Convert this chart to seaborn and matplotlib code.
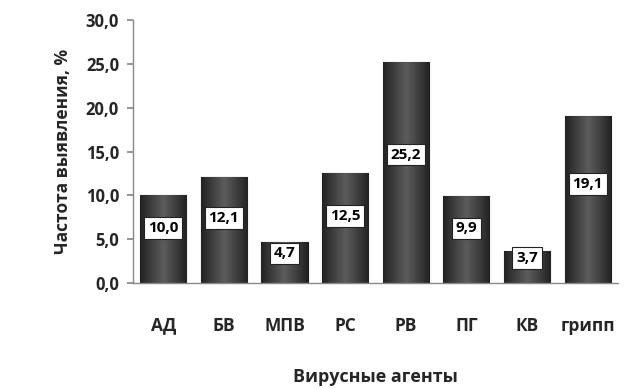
import numpy as np
import pandas as pd
import matplotlib
matplotlib.use('Agg')
import matplotlib.pyplot as plt
from matplotlib.colors import LinearSegmentedColormap
import seaborn as sns

# Data
agents = ['АД', 'БВ', 'МПВ', 'РС', 'РВ', 'ПГ', 'КВ', 'грипп']
freq = [10.0, 12.1, 4.7, 12.5, 25.2, 9.9, 3.7, 19.1]
value_labels = ['10,0', '12,1', '4,7', '12,5', '25,2', '9,9', '3,7', '19,1']
y_ticks = [0, 5, 10, 15, 20, 25, 30]
y_tick_labels = ['0,0', '5,0', '10,0', '15,0', '20,0', '25,0', '30,0']

df = pd.DataFrame({'agent': agents, 'freq': freq})

sns.set_theme(style='white')
plt.rcParams['font.family'] = ['Open Sans', 'DejaVu Sans']
plt.rcParams['font.weight'] = 'bold'

fig = plt.figure(figsize=(6.3, 3.89), dpi=100)
ax = fig.add_axes([0.211, 0.272, 0.77, 0.677])

sns.barplot(data=df, x='agent', y='freq', color='#3a3a3a', width=0.76,
            saturation=1, edgecolor='#1a1a1a', linewidth=0.8, ax=ax)

# cylinder-like shading on each bar
cyl = LinearSegmentedColormap.from_list('cyl', ['#5c5c5c', '#404040', '#222222'])
grad = np.abs(np.linspace(-1, 1, 64))
grad = np.vstack([grad, grad])
for p in ax.patches:
    x0, y0 = p.get_x(), p.get_y()
    w, h = p.get_width(), p.get_height()
    im = ax.imshow(grad, cmap=cyl, vmin=0, vmax=1, aspect='auto',
                   extent=[x0, x0 + w, y0, y0 + h], zorder=p.get_zorder() + 0.1)
    im.set_clip_path(p)

# value boxes
for i, (v, lab) in enumerate(zip(freq, value_labels)):
    ax.text(i, v * 0.55 + 0.8, lab, ha='center', va='center', fontsize=11,
            fontweight='bold', color='black', zorder=5,
            bbox=dict(boxstyle='square,pad=0.25', fc='white', ec='#222222', lw=0.8))

ax.set_xlim(-0.5, 7.5)
ax.set_ylim(0, 30)
ax.set_yticks(y_ticks)
ax.set_yticklabels(y_tick_labels, fontsize=12, fontweight='bold')
ax.set_xticks(range(len(agents)))
ax.set_xticklabels(agents, fontsize=12.5, fontweight='bold')
ax.set_xticks(np.arange(0.5, 7.5, 1), minor=True)
ax.tick_params(axis='x', which='major', length=0, pad=24)
ax.tick_params(axis='x', which='minor', length=4, color='#888888', direction='out')
ax.tick_params(axis='y', length=4, color='#888888', direction='out', left=True, pad=6)

for s in ['top', 'right']:
    ax.spines[s].set_visible(False)
for s in ['left', 'bottom']:
    ax.spines[s].set_color('#888888')
    ax.spines[s].set_linewidth(1.0)

ax.set_xlabel('Вирусные агенты', fontsize=13, fontweight='bold', labelpad=24)
ax.set_ylabel('Частота выявления, %', fontsize=12.5, fontweight='bold', labelpad=10)

fig.savefig('out.png', dpi=100)
